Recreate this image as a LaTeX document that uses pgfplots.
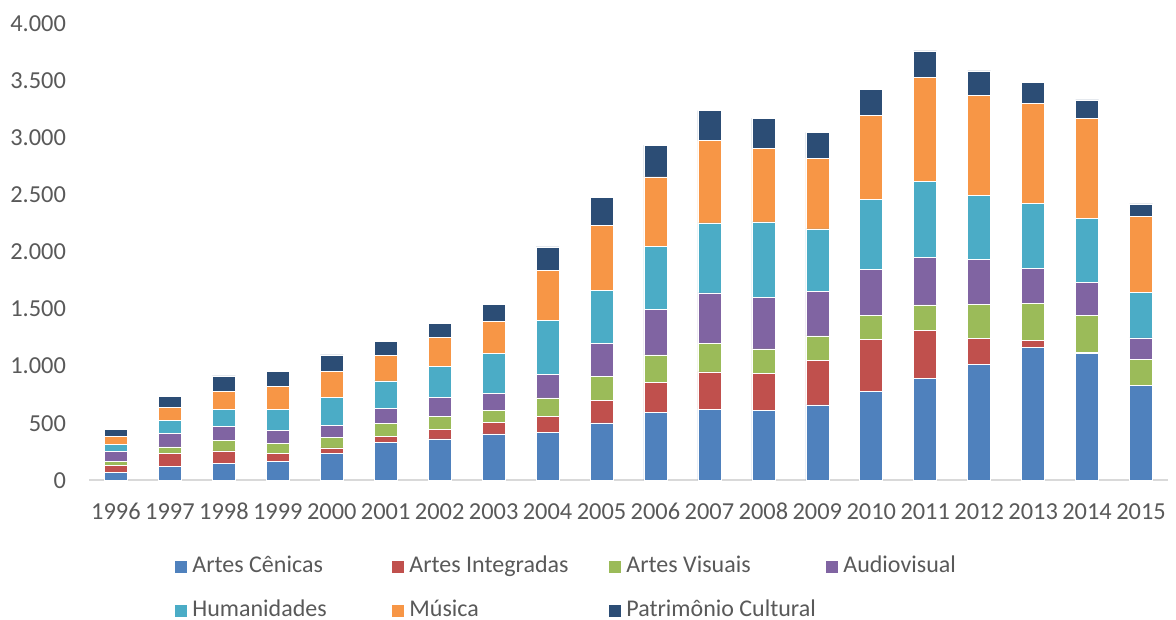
\documentclass[border=0pt]{standalone}
\usepackage{pgfplots}
\pgfplotsset{compat=1.18}
\usepackage{fontspec}
\setmainfont{Carlito}
\definecolor{cA}{HTML}{4F81BD}
\definecolor{cB}{HTML}{C0504D}
\definecolor{cC}{HTML}{9BBB59}
\definecolor{cD}{HTML}{8064A2}
\definecolor{cE}{HTML}{4BACC6}
\definecolor{cF}{HTML}{F79646}
\definecolor{cG}{HTML}{2C4D75}
\definecolor{txt}{HTML}{595959}
\definecolor{axl}{HTML}{D9D9D9}
\newcommand{\lb}[1]{\makebox[97.5bp][l]{#1}}
\begin{document}
\begin{tikzpicture}[font=\fontsize{12bp}{14bp}\selectfont]
\useasboundingbox (0,0) rectangle (588bp,310bp);
\begin{axis}[
  at={(44.5bp,69.85bp)}, anchor=south west,
  scale only axis, width=539.5bp, height=228.35bp,
  ybar stacked, bar width=11.5bp,
  xmin=-0.5, xmax=19.5, ymin=0, ymax=4000,
  xtick=data,
  xticklabels={1996,1997,1998,1999,2000,2001,2002,2003,2004,2005,2006,2007,2008,2009,2010,2011,2012,2013,2014,2015},
  ytick={0,500,...,4000},
  /pgf/number format/.cd, 1000 sep={.}, assume math mode=true, /pgfplots/.cd,
  axis lines*=left,
  x axis line style={draw=axl, line width=1bp, -},
  y axis line style={draw=none},
  major tick length=0pt,
  tick label style={text=txt, font=\fontsize{12.2bp}{14bp}\selectfont},
  xticklabel style={text height=8bp, text depth=0pt, yshift=-8bp},
  yticklabel style={xshift=-8bp},
  legend columns=4,
  legend cell align=left,
  legend image code/.code={\path[#1, draw=none] (0bp,-3bp) rectangle (6bp,3bp);},
  legend style={draw=none, fill=none, at={(axis description cs:0.0797,-0.237)}, anchor=west,
    inner sep=0pt, column sep=0pt, row sep=11bp, text=txt,
    nodes={inner xsep=2.5bp, inner ysep=0pt, text height=8.5bp, text depth=2.5bp}},
  every axis plot/.append style={draw=white, line width=0.3bp},
]
\addplot[fill=cA] coordinates {(0,70) (1,123) (2,145) (3,163) (4,237) (5,333) (6,362) (7,406) (8,420) (9,502) (10,594) (11,622) (12,613) (13,660) (14,781) (15,892) (16,1012) (17,1167) (18,1111) (19,830)};
\addplot[fill=cB] coordinates {(0,61) (1,110) (2,112) (3,70) (4,46) (5,49) (6,81) (7,99) (8,141) (9,195) (10,261) (11,327) (12,321) (13,391) (14,456) (15,418) (16,234) (17,55) (18,12) (19,0)};
\addplot[fill=cC] coordinates {(0,38) (1,59) (2,90) (3,91) (4,94) (5,117) (6,120) (7,108) (8,160) (9,214) (10,243) (11,248) (12,216) (13,213) (14,210) (15,227) (16,298) (17,330) (18,321) (19,226)};
\addplot[fill=cD] coordinates {(0,82) (1,120) (2,123) (3,111) (4,101) (5,128) (6,161) (7,146) (8,204) (9,286) (10,400) (11,444) (12,453) (13,388) (14,397) (15,415) (16,388) (17,303) (18,292) (19,192)};
\addplot[fill=cE] coordinates {(0,64) (1,110) (2,148) (3,183) (4,249) (5,243) (6,271) (7,350) (8,473) (9,464) (10,548) (11,613) (12,660) (13,549) (14,616) (15,663) (16,563) (17,570) (18,561) (19,397)};
\addplot[fill=cF] coordinates {(0,67) (1,114) (2,158) (3,205) (4,224) (5,225) (6,258) (7,280) (8,438) (9,575) (10,611) (11,721) (12,642) (13,620) (14,739) (15,911) (16,879) (17,879) (18,876) (19,663)};
\addplot[fill=cG] coordinates {(0,65) (1,96) (2,138) (3,132) (4,147) (5,123) (6,122) (7,155) (8,208) (9,240) (10,278) (11,263) (12,266) (13,227) (14,224) (15,234) (16,211) (17,184) (18,158) (19,112)};
\legend{\lb{Artes Cênicas},\lb{Artes Integradas},\lb{Artes Visuais},\lb{Audiovisual},\lb{Humanidades},\lb{Música},\lb{Patrimônio Cultural}}
\end{axis}
\end{tikzpicture}
\end{document}
